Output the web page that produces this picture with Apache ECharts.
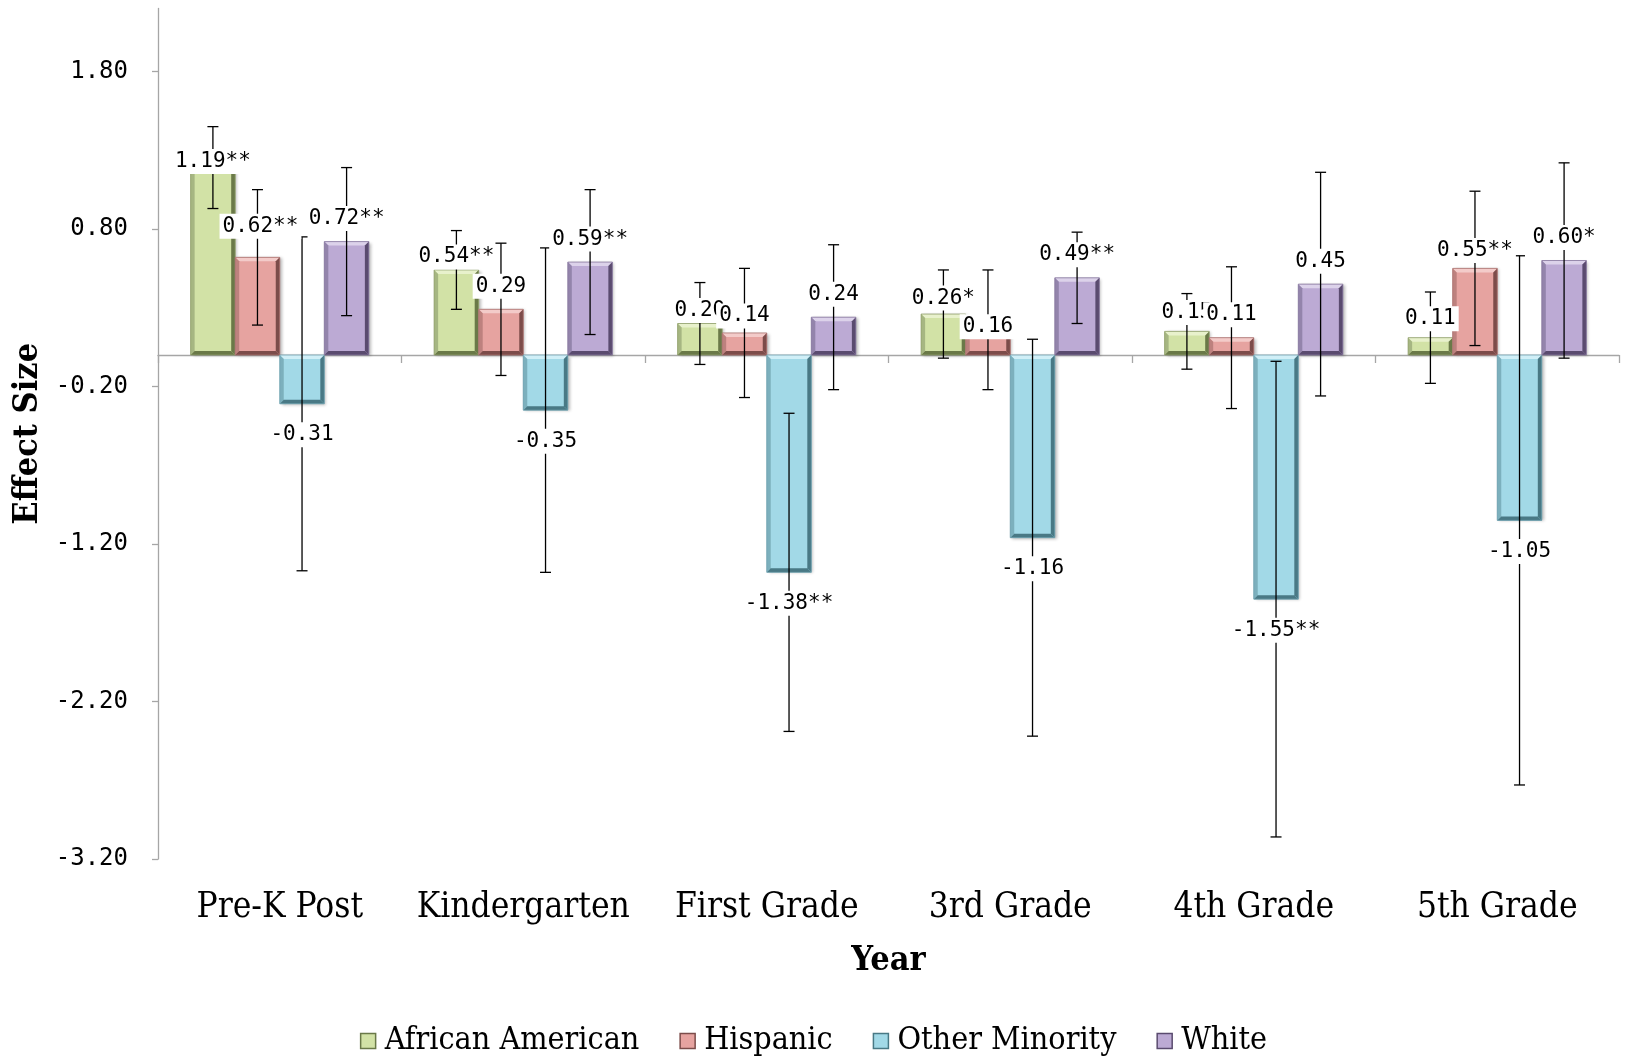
<!DOCTYPE html>
<html>
<head>
<meta charset="utf-8">
<script src="https://cdn.jsdelivr.net/npm/echarts@6/dist/echarts.min.js"></script>
<style>
  html, body { margin: 0; padding: 0; background: #fff; }
  #chart { width: 1627px; height: 1062px; }
</style>
</head>
<body>
<div id="chart"></div>
<script>
// Effect sizes by year and group, with significance marks and error-bar half widths
const categories = ['Pre-K Post', 'Kindergarten', 'First Grade', '3rd Grade', '4th Grade', '5th Grade'];
const seriesNames = ['African American', 'Hispanic', 'Other Minority', 'White'];

const africanAmerican = [1.19, 0.54, 0.20, 0.26, 0.15, 0.11];
const hispanic        = [0.62, 0.29, 0.14, 0.16, 0.11, 0.55];
const otherMinority   = [-0.31, -0.35, -1.38, -1.16, -1.55, -1.05];
const white           = [0.72, 0.59, 0.24, 0.49, 0.45, 0.60];

const starsAfricanAmerican = ['**', '**', '', '*', '', ''];
const starsHispanic        = ['**', '', '', '', '', '**'];
const starsOtherMinority   = ['', '', '**', '', '**', ''];
const starsWhite           = ['**', '**', '', '**', '', '*'];

const errAfricanAmerican = [0.26, 0.25, 0.26, 0.28, 0.24, 0.29];
const errHispanic        = [0.43, 0.42, 0.41, 0.38, 0.45, 0.49];
const errOtherMinority   = [1.06, 1.03, 1.01, 1.26, 1.51, 1.68];
const errWhite           = [0.47, 0.46, 0.46, 0.29, 0.71, 0.62];

const yTicks = [-3.2, -2.2, -1.2, -0.2, 0.8, 1.8];

const values = [africanAmerican, hispanic, otherMinority, white];
const stars = [starsAfricanAmerican, starsHispanic, starsOtherMinority, starsWhite];
const errors = [errAfricanAmerican, errHispanic, errOtherMinority, errWhite];

// hand-placed label adjustments (pixels, keyed "series-category")
const labelShift = {
  '0-0': [0, 17], '1-0': [3, -8], '0-1': [0, 10], '0-2': [0, 10], '1-2': [0, 6],
  '0-3': [0, 7], '1-3': [0, 20], '0-4': [0, 4], '0-5': [0, 4], '1-5': [0, 5]
};

// bevelled bar palette: face, top highlight, left edge, right/bottom shade
const palette = [
  { fill: '#d2e2a6', light: '#e8f1cc', mid: '#a6b682', dark: '#6a7948', line: '#8e9d6a' },
  { fill: '#e6a3a0', light: '#f3cbc9', mid: '#bd817e', dark: '#7c4c4a', line: '#a8706d' },
  { fill: '#a2d9e7', light: '#d0eff7', mid: '#7cb0bd', dark: '#497985', line: '#6fa0ad' },
  { fill: '#bcaad4', light: '#dcd2ea', mid: '#9384ab', dark: '#5a4b6f', line: '#86779d' }
];

const BAR_FRACTION = 0.183;

function barRect(api, k) {
  const ci = api.value(0);
  const v = api.value(1);
  const base = api.coord([ci, 0]);
  const end = api.coord([ci, v]);
  const band = api.size([1, 0])[0];
  const bw = band * BAR_FRACTION;
  const cx = base[0] + (k - 1.5) * bw;
  const y0 = Math.min(base[1], end[1]);
  const y1 = Math.max(base[1], end[1]);
  return { cx: cx, x: cx - bw / 2, y: y0, w: bw, h: y1 - y0, v: v };
}

function bevelBar(k) {
  return function (params, api) {
    const r = barRect(api, k);
    const c = palette[k];
    const b = Math.min(4, r.h / 2);
    const x = r.x, y = r.y, w = r.w, h = r.h;
    return {
      type: 'group',
      children: [
        { type: 'rect', shape: { x: x, y: y, width: w, height: h },
          style: { fill: c.fill, shadowColor: 'rgba(0,0,0,0.28)', shadowBlur: 3, shadowOffsetX: 2, shadowOffsetY: 1 } },
        { type: 'polygon', shape: { points: [[x, y], [x + w, y], [x + w - b, y + b], [x + b, y + b]] }, style: { fill: c.light } },
        { type: 'polygon', shape: { points: [[x, y], [x + b, y + b], [x + b, y + h - b], [x, y + h]] }, style: { fill: c.mid } },
        { type: 'polygon', shape: { points: [[x + w, y], [x + w, y + h], [x + w - b, y + h - b], [x + w - b, y + b]] }, style: { fill: c.dark } },
        { type: 'polygon', shape: { points: [[x, y + h], [x + w, y + h], [x + w - b, y + h - b], [x + b, y + h - b]] }, style: { fill: c.dark } },
        { type: 'rect', shape: { x: x, y: y, width: w, height: h }, style: { fill: null, stroke: c.line, lineWidth: 0.8 } }
      ]
    };
  };
}

function errorBar(k) {
  return function (params, api) {
    const r = barRect(api, k);
    const e = api.value(2);
    const hi = api.coord([api.value(0), r.v + e]);
    const lo = api.coord([api.value(0), r.v - e]);
    const cap = 5.5;
    const st = { stroke: '#000', lineWidth: 1.3 };
    return {
      type: 'group',
      children: [
        { type: 'line', shape: { x1: r.cx, y1: hi[1], x2: r.cx, y2: lo[1] }, style: st },
        { type: 'line', shape: { x1: r.cx - cap, y1: hi[1], x2: r.cx + cap, y2: hi[1] }, style: st },
        { type: 'line', shape: { x1: r.cx - cap, y1: lo[1], x2: r.cx + cap, y2: lo[1] }, style: st }
      ]
    };
  };
}

function valueLabel(k) {
  return function (params, api) {
    const r = barRect(api, k);
    const i = params.dataIndex;
    const text = values[k][i].toFixed(2) + stars[k][i];
    const shift = labelShift[k + '-' + i] || [0, 0];
    const cy = (r.v >= 0 ? r.y - 23 : r.y + r.h + 31) + shift[1];
    return {
      type: 'text',
      x: r.cx + shift[0], y: cy,
      style: {
        text: text,
        font: '21px "DejaVu Sans Mono"',
        fill: '#000',
        align: 'center',
        verticalAlign: 'middle',
        backgroundColor: '#fff',
        padding: [2, 3]
      }
    };
  };
}

const series = [];
values.forEach(function (vals, k) {
  series.push({
    name: seriesNames[k],
    type: 'custom',
    xAxisIndex: 0,
    itemStyle: { color: palette[k].fill },
    renderItem: bevelBar(k),
    encode: { x: 0, y: 1 },
    z: 2,
    data: vals.map(function (v, i) { return [i, v]; })
  });
});
values.forEach(function (vals, k) {
  series.push({
    type: 'custom',
    xAxisIndex: 0,
    renderItem: errorBar(k),
    encode: { x: 0, y: 1 },
    z: 3,
    silent: true,
    data: vals.map(function (v, i) { return [i, v, errors[k][i]]; })
  });
});
values.forEach(function (vals, k) {
  series.push({
    type: 'custom',
    xAxisIndex: 0,
    renderItem: valueLabel(k),
    encode: { x: 0, y: 1 },
    z: 4,
    silent: true,
    data: vals.map(function (v, i) { return [i, v]; })
  });
});

const chart = echarts.init(document.getElementById('chart'), null, { renderer: 'canvas' });
chart.setOption({
  animation: false,
  backgroundColor: '#fff',
  grid: { left: 158, right: 8, top: 8.5, bottom: 203, containLabel: false },
  legend: {
    data: seriesNames.map(function (n, k) {
      return { name: n, itemStyle: { color: palette[k].fill, borderColor: palette[k].dark, borderWidth: 1.5 } };
    }),
    left: 'center',
    top: 1020,
    icon: 'rect',
    itemWidth: 15,
    itemHeight: 15,
    itemGap: 40,
    textStyle: { fontFamily: '"DejaVu Serif Condensed"', fontSize: 32, color: '#000', padding: [0, 0, 0, 4] }
  },
  xAxis: [
    {
      type: 'category',
      data: categories,
      position: 'bottom',
      axisLine: { show: false, onZero: false },
      axisTick: { show: false },
      splitLine: { show: false },
      axisLabel: { interval: 0, fontFamily: '"DejaVu Serif Condensed"', fontSize: 35, color: '#000', margin: 31 },
      name: 'Year',
      nameLocation: 'middle',
      nameGap: 85,
      nameTextStyle: { fontFamily: '"DejaVu Serif Condensed"', fontWeight: 'bold', fontSize: 34, color: '#000' }
    },
    {
      type: 'category',
      data: categories,
      position: 'top',
      axisLine: { show: true, onZero: true, lineStyle: { color: '#a6a6a6', width: 1.3 } },
      axisTick: { show: true, inside: true, length: 8, lineStyle: { color: '#a6a6a6', width: 1.3 } },
      axisLabel: { show: false },
      splitLine: { show: false }
    }
  ],
  yAxis: {
    type: 'value',
    min: -3.2,
    max: 2.2,
    splitLine: { show: false },
    axisLine: { show: true, lineStyle: { color: '#a6a6a6', width: 1.3 } },
    axisTick: { show: true, length: 6, customValues: yTicks, lineStyle: { color: '#a6a6a6', width: 1.3 } },
    axisLabel: {
      customValues: yTicks,
      formatter: function (v) { return v.toFixed(2); },
      fontFamily: '"DejaVu Sans Mono"',
      fontSize: 24,
      color: '#000',
      margin: 30
    },
    name: 'Effect Size',
    nameLocation: 'middle',
    nameRotate: 90,
    nameGap: 111,
    nameTextStyle: { fontFamily: '"DejaVu Serif Condensed"', fontWeight: 'bold', fontSize: 34, color: '#000' }
  },
  series: series
});
</script>
</body>
</html>
